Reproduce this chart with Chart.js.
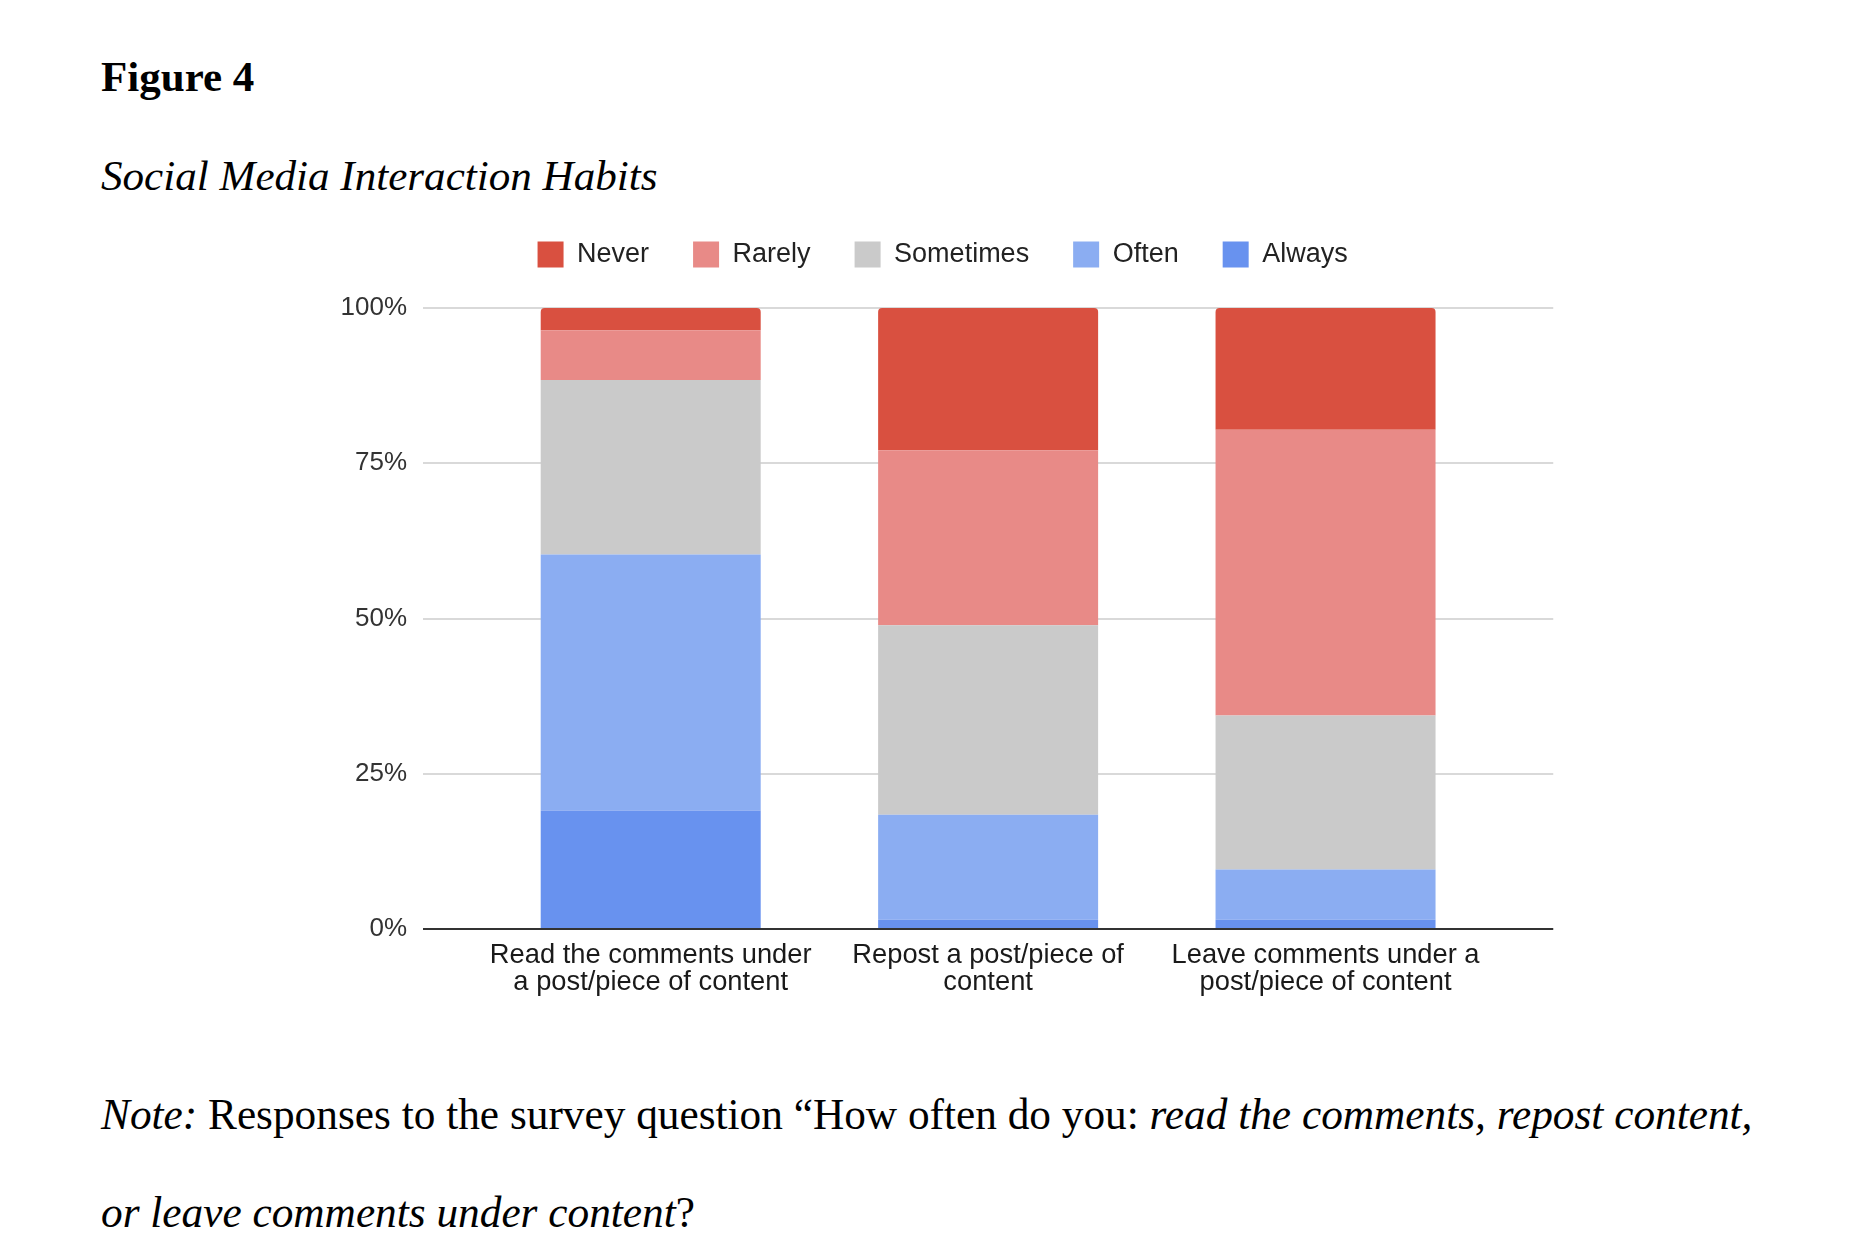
<!DOCTYPE html>
<html>

<head>
  <title>Figure 4 - Social Media Interaction Habits</title>
  <script src="https://cdn.jsdelivr.net/npm/chart.js"></script>
  <style>
    body {
      margin: 0;
      background-color: #ffffff;
      width: 1860px;
      height: 1259px;
      position: relative;
      overflow: hidden;
      font-family: "Liberation Serif", "Times New Roman", serif;
      color: #000;
    }

    .txt {
      position: absolute;
      left: 101px;
      white-space: nowrap;
      font-size: 43.3px;
      line-height: 1;
    }

    #fig { top: 55px; font-weight: bold; font-size: 43px; }
    #ttl { top: 154px; font-style: italic; font-size: 43.1px; }
    #note1 { top: 1093px; }
    #note2 { top: 1191px; }

    #chartBox {
      position: absolute;
      left: 0;
      top: 200px;
    }
  </style>
</head>

<body>
  <div class="txt" id="fig">Figure 4</div>
  <div class="txt" id="ttl">Social Media Interaction Habits</div>

  <canvas id="chartBox" width="1860" height="820"></canvas>

  <div class="txt" id="note1"><i>Note:</i> Responses to the survey question “How often do you: <i>read the comments, repost content,</i></div>
  <div class="txt" id="note2"><i>or leave comments under content</i>?</div>

  <script>
    // categories (each split in two lines, like the original axis)
    var categories = [
      ['Read the comments under', 'a post/piece of content'],
      ['Repost a post/piece of', 'content'],
      ['Leave comments under a', 'post/piece of content']
    ];

    // percent of answers
    var never = [3.6, 22.9, 19.6];
    var rarely = [8.0, 28.2, 46.0];
    var sometimes = [28.1, 30.5, 24.8];
    var often = [41.2, 16.9, 8.1];
    var always = [19.1, 1.5, 1.5];

    var yTickValues = [0, 25, 50, 75, 100];
    var yTickLabels = ['0%', '25%', '50%', '75%', '100%'];

    Chart.defaults.font.family = '"Liberation Sans", Arial, sans-serif';

    // bottom of stack first, legend is reversed
    var dados = {
      labels: categories,
      datasets: [
        { label: 'Always', data: always, backgroundColor: '#6892ef' },
        { label: 'Often', data: often, backgroundColor: '#8badf2' },
        { label: 'Sometimes', data: sometimes, backgroundColor: '#cacaca' },
        { label: 'Rarely', data: rarely, backgroundColor: '#e88a87' },
        { label: 'Never', data: never, backgroundColor: '#d95040', borderRadius: 4 }
      ]
    };

    // extra room under the legend
    var legendaEspaco = {
      id: 'legendaEspaco',
      beforeInit: function (chart) {
        var fitOriginal = chart.legend.fit;
        chart.legend.fit = function () {
          fitOriginal.bind(chart.legend)();
          this.height += 30;
        };
      }
    };

    function corGrade(ctx) {
      return ctx.tick && ctx.tick.value === 0 ? '#333333' : '#d9d9d9';
    }

    function ticksY(s) {
      s.ticks = yTickValues.map(v => ({ value: v }));
    }

    var config = {
      type: 'bar',
      data: dados,
      plugins: [legendaEspaco],
      options: {
        responsive: false,
        animation: false,
        categoryPercentage: 1,
        barPercentage: 0.652,
        layout: { padding: { left: 332, right: 306.75, top: 0, bottom: 20 } },
        plugins: {
          tooltip: { enabled: false },
          legend: {
            position: 'top',
            reverse: true,
            labels: {
              boxWidth: 26,
              boxHeight: 26,
              padding: 44,
              color: '#222',
              font: { size: 27 }
            }
          }
        },
        scales: {
          x: {
            stacked: true,
            ticks: {
              autoSkip: false,
              maxRotation: 0,
              padding: 13,
              color: '#1a1a1a',
              font: { size: 27.3, lineHeight: 1.0 }
            },
            grid: { display: false, drawTicks: false },
            border: { display: true, color: '#333', width: 2, z: 1 }
          },
          y: {
            stacked: true,
            min: 0,
            max: 100,
            afterFit: function (s) { s.width = 150; },
            afterBuildTicks: ticksY,
            ticks: {
              padding: 16,
              color: '#333',
              font: { size: 26 },
              callback: function (v) {
                return yTickLabels[yTickValues.indexOf(v)];
              }
            },
            grid: { color: corGrade, lineWidth: 2, tickLength: 59 },
            border: { display: false }
          },
          yR: {
            position: 'right',
            min: 0,
            max: 100,
            afterFit: function (s) { s.width = 59; },
            afterBuildTicks: ticksY,
            ticks: { display: false },
            grid: { color: corGrade, lineWidth: 2, tickLength: 59, drawOnChartArea: false },
            border: { display: false }
          }
        }
      }
    };

    var canvas = document.getElementById('chartBox');
    var grafico = new Chart(canvas, config);

    // fit the plot area to the original: top 308, bottom 929
    var altura = grafico.chartArea.bottom - grafico.chartArea.top;
    grafico.options.layout.padding.bottom += altura - 621;
    grafico.update();
    canvas.style.top = (308 - grafico.chartArea.top) + 'px';
  </script>
</body>
</html>
